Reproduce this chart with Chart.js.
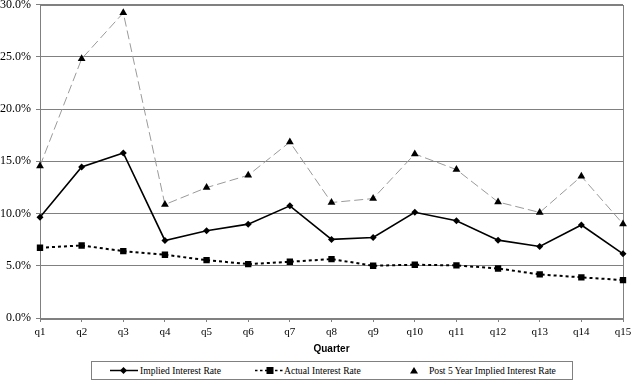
<!DOCTYPE html>
<html>
<head>
<meta charset="utf-8">
<script src="https://cdn.jsdelivr.net/npm/chart.js@4/dist/chart.umd.min.js"></script>
<style>
  html, body { margin: 0; padding: 0; background: #fff; }
  #wrap { position: relative; width: 633px; height: 391px; }
  #c { position: absolute; left: 0; top: 0; }
  #legend {
    position: absolute; left: 91px; top: 361px; width: 482px; height: 19px;
    border: 1px solid #808080; box-sizing: border-box; background: #fff;
    font-family: "Liberation Serif", "Times New Roman", serif; font-size: 9.6px; color: #000;
  }
  .item { position: absolute; top: 1px; height: 15px; line-height: 15px; white-space: nowrap; }
  .item svg { position: absolute; top: 0; }
  .item span { position: absolute; top: 0; }
</style>
</head>
<body>
<div id="wrap">
  <canvas id="c" width="633" height="391"></canvas>
  <div id="legend">
    <div class="item" style="left:18px;">
      <svg width="30" height="15"><line x1="0" y1="7.5" x2="28" y2="7.5" stroke="#000" stroke-width="1.5"/><polygon points="13.5,4 17,7.5 13.5,11 10,7.5" fill="#000"/></svg>
      <span style="left:30px;">Implied Interest Rate</span>
    </div>
    <div class="item" style="left:163px;">
      <svg width="30" height="15"><line x1="0" y1="7.5" x2="28" y2="7.5" stroke="#000" stroke-width="1.5" stroke-dasharray="2.5,2.5"/><rect x="11.5" y="4" width="7" height="7" fill="#000"/></svg>
      <span style="left:29px;">Actual Interest Rate</span>
    </div>
    <div class="item" style="left:310px;">
      <svg width="30" height="15"><polygon points="12,4 16,10.5 8,10.5" fill="#000"/></svg>
      <span style="left:27px;">Post 5 Year Implied Interest Rate</span>
    </div>
  </div>
</div>
<script>
const quarters = ["q1","q2","q3","q4","q5","q6","q7","q8","q9","q10","q11","q12","q13","q14","q15"];
const impliedRate = [9.65, 14.45, 15.8, 7.42, 8.35, 8.98, 10.73, 7.52, 7.71, 10.12, 9.3, 7.45, 6.85, 8.9, 6.14];
const actualRate = [6.72, 6.94, 6.4, 6.05, 5.54, 5.16, 5.38, 5.64, 5.0, 5.1, 5.03, 4.74, 4.17, 3.89, 3.63];
const post5Rate = [14.55, 24.8, 29.2, 10.86, 12.48, 13.66, 16.84, 11.05, 11.43, 15.7, 14.2, 11.1, 10.1, 13.56, 9.0];
const yTicks = [0, 5, 10, 15, 20, 25, 30];
const xTitle = "Quarter";

const frame = {
  id: 'frame',
  beforeDatasetsDraw(chart) {
    const a = chart.chartArea, ctx = chart.ctx;
    ctx.save();
    ctx.strokeStyle = '#808080';
    ctx.lineWidth = 1;
    ctx.strokeRect(Math.round(a.left) + 0.5, Math.round(a.top) + 0.5, Math.round(a.right - a.left), Math.round(a.bottom - a.top));
    ctx.restore();
  }
};

new Chart(document.getElementById('c'), {
  type: 'line',
  data: {
    labels: quarters,
    datasets: [
      {
        label: 'Implied Interest Rate', data: impliedRate,
        borderColor: '#000', backgroundColor: '#000', borderWidth: 1.6,
        pointStyle: 'rectRot', pointRadius: 3.5, pointBorderWidth: 0, tension: 0
      },
      {
        label: 'Actual Interest Rate', data: actualRate,
        borderColor: '#000', backgroundColor: '#000', borderWidth: 2, borderDash: [3, 3],
        pointStyle: 'rect', pointRadius: 4.5, pointBorderWidth: 0, tension: 0
      },
      {
        label: 'Post 5 Year Implied Interest Rate', data: post5Rate,
        borderColor: '#9a9a9a', backgroundColor: '#000', borderWidth: 1, borderDash: [9, 4],
        pointStyle: 'triangle', pointRadius: 4.5, pointBorderWidth: 0, pointBorderColor: '#000', tension: 0
      }
    ]
  },
  options: {
    responsive: false,
    animation: false,
    events: [],
    layout: { padding: { left: 0, right: 10, top: 4, bottom: 36 } },
    plugins: { legend: { display: false }, tooltip: { enabled: false } },
    scales: {
      x: {
        offset: false,
        grid: { drawOnChartArea: false, drawTicks: true, tickLength: 4, color: '#808080' },
        border: { color: '#808080' },
        ticks: { color: '#000', font: { family: 'Liberation Serif', size: 11 }, padding: 4, maxRotation: 0, autoSkip: false },
        title: { display: true, text: xTitle, color: '#000', font: { family: 'Liberation Sans', size: 10, weight: 'bold' }, padding: { top: 2, bottom: 0 } },
        afterFit(s) { s.height = 37; s.paddingLeft = 0; s.paddingRight = 0; }
      },
      y: {
        min: 0, max: 30,
        afterBuildTicks(s) { s.ticks = yTicks.map(v => ({ value: v })); },
        grid: { color: '#808080', drawTicks: true, tickLength: 4 },
        border: { color: '#808080' },
        ticks: { color: '#000', font: { family: 'Liberation Serif', size: 12 }, padding: 5, callback: v => v.toFixed(1) + '%' },
        afterFit(s) { s.width = 40; s.paddingTop = 0; s.paddingBottom = 0; }
      }
    }
  },
  plugins: [frame]
});
</script>
</body>
</html>
